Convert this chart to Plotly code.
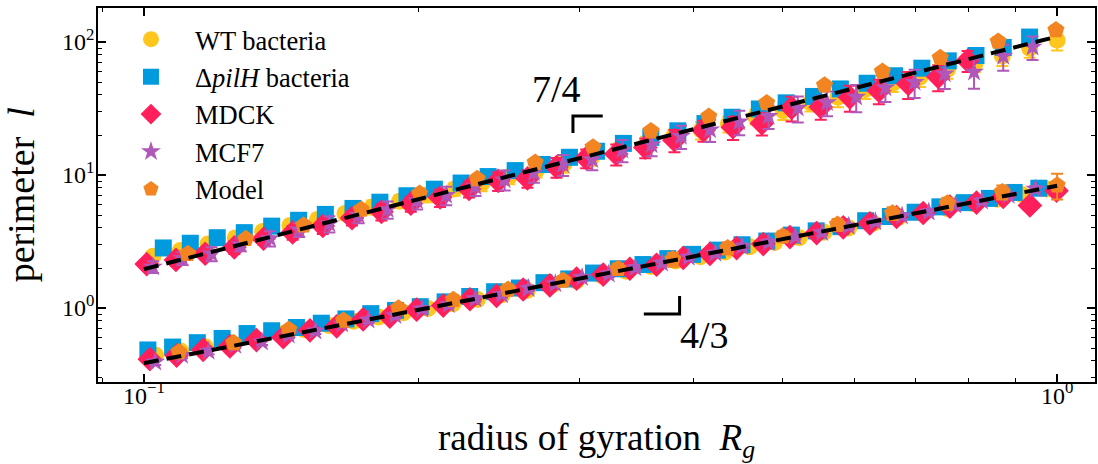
import numpy as np
import plotly.graph_objects as go

# ---------------- data ----------------
# upper family (slope 7/4)
wt_up_x = [0.1023, 0.1096, 0.1175, 0.1259, 0.1349, 0.1445, 0.1549, 0.1660, 0.1778, 0.1905,
           0.2042, 0.2188, 0.2344, 0.2512, 0.2692, 0.2884, 0.3090, 0.3311, 0.3548, 0.3802,
           0.4074, 0.4365, 0.4677, 0.5012, 0.5370, 0.5754, 0.6166, 0.6607, 0.7079, 0.7586,
           0.8128, 0.8710, 0.9333, 1.0]
wt_up_y = [2.45, 2.71, 3.03, 3.37, 3.76, 4.18, 4.63, 5.13, 5.74, 6.35,
           7.09, 7.85, 8.69, 9.70, 10.9, 12.1, 13.5, 15.4, 17.0, 19.5,
           21.8, 24.3, 27.6, 30.5, 34.9, 38.5, 43.9, 49.0, 54.7, 62.4,
           68.9, 78.6, 89.7, 103.0]
wt_up_err_pct = [8, 9, 8, 10, 9, 10, 11, 10, 12, 11, 12, 11, 13, 12, 12, 14, 13, 12, 14, 13,
                 15, 14, 13, 15, 14, 16, 15, 14, 16, 15, 14, 16, 15, 16]

pil_up_x = [0.1050, 0.1124, 0.1203, 0.1288, 0.1380, 0.1477, 0.1580, 0.1694, 0.1813, 0.1941,
            0.2080, 0.2225, 0.2382, 0.2550, 0.2730, 0.2924, 0.3130, 0.3350, 0.3590, 0.3843,
            0.4115, 0.4406, 0.4720, 0.5050, 0.5410, 0.5790, 0.6194, 0.6637, 0.7110, 0.7600,
            0.8150, 0.8730, 0.9330]
pil_up_y = [2.83, 3.07, 3.38, 3.69, 4.13, 4.57, 5.06, 5.61, 6.25, 6.99,
            7.83, 8.71, 9.74, 10.8, 12.0, 13.6, 15.1, 17.3, 19.2, 21.5,
            24.4, 27.2, 31.4, 34.9, 39.0, 44.4, 49.0, 55.8, 63.6, 72.2,
            79.2, 91.1, 109.0]
pil_up_err_pct = [5, 6, 5, 6, 6, 7, 6, 7, 7, 6, 8, 7, 8, 7, 8, 9, 8, 9, 8, 9,
                  10, 9, 10, 9, 10, 11, 10, 11, 10, 11, 12, 11, 12]

mdck_up_x = [0.1007, 0.1084, 0.1167, 0.1256, 0.1352, 0.1455, 0.1570, 0.1690, 0.1820, 0.1960,
             0.2110, 0.2270, 0.2443, 0.2630, 0.2830, 0.3050, 0.3290, 0.3540, 0.3810, 0.4100,
             0.4416, 0.4750, 0.5120, 0.5510, 0.5930, 0.6380, 0.6870, 0.7410, 0.7980]
mdck_up_y = [2.14, 2.30, 2.56, 2.86, 3.32, 3.70, 4.14, 4.75, 5.29, 6.09,
             6.78, 7.87, 9.05, 9.43, 11.5, 13.4, 14.4, 16.1, 18.3, 21.7,
             22.9, 24.5, 32.0, 32.5, 38.4, 43.1, 48.5, 54.8, 72.6]
mdck_up_err_pct = [8, 10, 9, 11, 10, 12, 13, 12, 14, 13, 15, 14, 16, 15, 17, 16, 18, 17, 19, 18,
                   20, 19, 21, 20, 22, 21, 23, 22, 18]

mcf_up_x = [0.1023, 0.1102, 0.1186, 0.1276, 0.1374, 0.1479, 0.1596, 0.1718, 0.1849, 0.1991,
            0.2143, 0.2307, 0.2483, 0.2673, 0.2877, 0.3097, 0.3342, 0.3597, 0.3873, 0.4169,
            0.4487, 0.4831, 0.5200, 0.5598, 0.6026, 0.6486, 0.6982, 0.7534, 0.8110, 0.8730,
            0.9400]
mcf_up_y = [2.04, 2.37, 2.56, 3.00, 3.34, 3.88, 4.30, 4.99, 5.51, 6.40,
            7.05, 8.19, 9.23, 10.4, 12.0, 13.1, 15.4, 16.9, 19.6, 21.9,
            25.2, 27.7, 31.9, 35.1, 38.6, 45.4, 49.9, 57.7, 59.5, 78.1,
            91.8]
mcf_up_err_pct = [10, 11, 12, 11, 13, 12, 14, 13, 15, 14, 16, 15, 17, 16, 18, 17, 19, 18, 20, 19,
                  21, 20, 22, 21, 23, 22, 24, 23, 25, 22, 20]

model_up_x = [0.1117, 0.1293, 0.1496, 0.1730, 0.2004, 0.2317, 0.2682, 0.3103, 0.3591, 0.4155,
              0.4808, 0.5563, 0.6437, 0.7448, 0.8619, 0.9970]
model_up_y = [2.56, 3.32, 4.20, 5.51, 7.26, 9.36, 12.4, 16.2, 21.4, 27.5,
              34.8, 47.3, 60.1, 76.2, 101.0, 123.0]
model_up_err_pct = [4, 4, 5, 4, 5, 5, 5, 6, 5, 6, 6, 6, 7, 6, 7, 8]

# lower family (slope 4/3)
wt_lo_x = [0.1030, 0.1097, 0.1167, 0.1242, 0.1323, 0.1408, 0.1498, 0.1595, 0.1697, 0.1807,
           0.1924, 0.2047, 0.2180, 0.2319, 0.2469, 0.2629, 0.2797, 0.2977, 0.3169, 0.3373,
           0.3590, 0.3822, 0.4068, 0.4330, 0.4608, 0.4905, 0.5219, 0.5556, 0.5914, 0.6294,
           0.6699, 0.7131, 0.7590, 0.8078, 0.8599, 0.9152, 0.9741]
wt_lo_y = [0.441, 0.475, 0.511, 0.551, 0.593, 0.638, 0.687, 0.739, 0.796, 0.856,
           0.921, 0.991, 1.078, 1.159, 1.260, 1.355, 1.487, 1.601, 1.757, 1.890,
           2.054, 2.255, 2.426, 2.636, 2.895, 3.114, 3.384, 3.716, 3.997, 4.344,
           4.769, 5.129, 5.575, 6.119, 6.583, 7.154, 7.855]

pil_lo_x = [0.1010, 0.1075, 0.1144, 0.1218, 0.1297, 0.1380, 0.1469, 0.1564, 0.1664, 0.1772,
            0.1886, 0.2007, 0.2137, 0.2274, 0.2421, 0.2577, 0.2742, 0.2919, 0.3107, 0.3307,
            0.3520, 0.3747, 0.3988, 0.4245, 0.4518, 0.4809, 0.5117, 0.5447, 0.5798, 0.6171,
            0.6568, 0.6991, 0.7441, 0.7920, 0.8430, 0.8973, 0.9550]
pil_lo_y = [0.484, 0.509, 0.549, 0.591, 0.643, 0.675, 0.714, 0.769, 0.828, 0.908,
            0.960, 1.024, 1.113, 1.221, 1.327, 1.414, 1.552, 1.655, 1.833, 1.974,
            2.124, 2.353, 2.533, 2.726, 2.992, 3.189, 3.534, 3.804, 4.093, 4.535,
            4.881, 5.253, 5.765, 6.203, 6.676, 7.398, 7.962]

mdck_lo_x = [0.1015, 0.1086, 0.1161, 0.1242, 0.1328, 0.1421, 0.1520, 0.1626, 0.1738, 0.1859,
             0.1989, 0.2127, 0.2275, 0.2433, 0.2602, 0.2783, 0.2977, 0.3184, 0.3405, 0.3642,
             0.3896, 0.4167, 0.4457, 0.4767, 0.5098, 0.5453, 0.5832, 0.6237, 0.6671, 0.7135,
             0.7631, 0.8161, 0.8730, 0.9337, 0.9986]
mdck_lo_y = [0.413, 0.439, 0.485, 0.515, 0.574, 0.603, 0.680, 0.729, 0.822, 0.863,
             0.973, 1.043, 1.165, 1.236, 1.379, 1.479, 1.667, 1.786, 1.974, 2.116,
             2.386, 2.558, 2.826, 3.028, 3.415, 3.661, 4.045, 4.337, 4.839, 5.186,
             5.789, 6.205, 6.856, 5.908, 7.622]

mcf_lo_x = [0.1029, 0.1101, 0.1177, 0.1259, 0.1347, 0.1441, 0.1541, 0.1649, 0.1762, 0.1885,
            0.2017, 0.2157, 0.2307, 0.2467, 0.2638, 0.2822, 0.3019, 0.3229, 0.3453, 0.3693,
            0.3951, 0.4225, 0.4519, 0.4834, 0.5169, 0.5529, 0.5914, 0.6324, 0.6764, 0.7235,
            0.7738, 0.8275, 0.8852, 0.9468]
mcf_lo_y = [0.393, 0.442, 0.474, 0.524, 0.556, 0.627, 0.672, 0.758, 0.812, 0.880,
            0.982, 1.063, 1.175, 1.259, 1.405, 1.522, 1.698, 1.801, 2.011, 2.177,
            2.406, 2.579, 2.908, 3.117, 3.444, 3.692, 4.121, 4.463, 4.929, 5.283,
            5.956, 6.386, 7.054, 7.870]

model_lo_x = [0.1092, 0.1254, 0.1441, 0.1654, 0.1900, 0.2182, 0.2505, 0.2877, 0.3305, 0.3795,
              0.4358, 0.5005, 0.5748, 0.6603, 0.7583, 0.8708, 1.0]
model_lo_y = [0.468, 0.547, 0.689, 0.806, 0.997, 1.155, 1.377, 1.609, 1.972, 2.326,
              2.825, 3.464, 4.246, 5.154, 6.141, 7.454, 8.383]
model_lo_err_pct = [6, 7, 6, 8, 7, 8, 9, 8, 9, 12, 10, 9, 10, 11, 10, 12, 22]

lo_err_pct = {"wt": 5, "pil": 4, "mdck": 5, "mcf": 5}

# fitted power laws (end points)
fit_x = [0.1, 1.0]
fit_up_y = [1.96, 110.0]
fit_lo_y = [0.385, 8.3]

# slope guides
guide_up_x = [0.318, 0.295, 0.295]
guide_up_y = [27.8, 27.8, 20.7]
guide_lo_x = [0.3527, 0.386, 0.386]
guide_lo_y = [0.901, 0.901, 1.23]

names = ["WT bacteria", "\u0394<i>pilH</i> bacteria", "MDCK", "MCF7", "Model"]
colors = ["#FFC61E", "#009ADE", "#FF1F5B", "#AF58BA", "#F28522"]
symbols = ["circle", "square", "diamond", "star", "pentagon"]
sizes = [17, 17, 19, 15, 18]

x_tickvals = [0.1, 1.0]
x_ticktext = ["10<sup>\u22121</sup>", "10<sup>0</sup>"]
x_minor = [0.09, 0.2, 0.3, 0.4, 0.5, 0.6, 0.7, 0.8, 0.9]
y_tickvals = [1, 10, 100]
y_ticktext = ["10<sup>0</sup>", "10<sup>1</sup>", "10<sup>2</sup>"]
y_minor = [0.3, 0.4, 0.5, 0.6, 0.7, 0.8, 0.9, 2, 3, 4, 5, 6, 7, 8, 9, 20, 30, 40, 50, 60, 70, 80, 90]

FONT = "'Liberation Serif', 'Times New Roman', 'DejaVu Serif', serif"

fig = go.Figure()

upper = [(wt_up_x, wt_up_y, wt_up_err_pct), (pil_up_x, pil_up_y, pil_up_err_pct),
         (mdck_up_x, mdck_up_y, mdck_up_err_pct), (mcf_up_x, mcf_up_y, mcf_up_err_pct),
         (model_up_x, model_up_y, model_up_err_pct)]
lower = [(wt_lo_x, wt_lo_y, [lo_err_pct["wt"]] * len(wt_lo_x)),
         (pil_lo_x, pil_lo_y, [lo_err_pct["pil"]] * len(pil_lo_x)),
         (mdck_lo_x, mdck_lo_y, [lo_err_pct["mdck"]] * len(mdck_lo_x)),
         (mcf_lo_x, mcf_lo_y, [lo_err_pct["mcf"]] * len(mcf_lo_x)),
         (model_lo_x, model_lo_y, model_lo_err_pct)]

for i in range(5):
    for grp, show in ((lower, False), (upper, True)):
        xs, ys, ep = grp[i]
        err = [y * p / 100.0 for y, p in zip(ys, ep)]
        fig.add_trace(go.Scatter(
            x=xs, y=ys, mode="markers", name=names[i], legendgroup=names[i],
            showlegend=show,
            marker=dict(symbol=symbols[i], size=sizes[i], color=colors[i], line=dict(width=0)),
            error_y=dict(type="data", array=err, color=colors[i], thickness=2, width=6),
        ))

for fy in (fit_up_y, fit_lo_y):
    fig.add_trace(go.Scatter(x=fit_x, y=fy, mode="lines", showlegend=False,
                             line=dict(color="black", width=4, dash="15px,8px")))

for gx, gy in ((guide_up_x, guide_up_y), (guide_lo_x, guide_lo_y)):
    fig.add_trace(go.Scatter(x=gx, y=gy, mode="lines", showlegend=False,
                             line=dict(color="black", width=3)))

fig.add_annotation(x=np.log10(0.283), y=np.log10(44.5), xref="x", yref="y", text="7/4",
                   showarrow=False, font=dict(family=FONT, size=38, color="black"))
fig.add_annotation(x=np.log10(0.411), y=np.log10(0.627), xref="x", yref="y", text="4/3",
                   showarrow=False, font=dict(family=FONT, size=38, color="black"))

fig.add_annotation(x=0.5, y=-0.225, xref="paper", yref="paper",
                   text="radius of gyration&nbsp;&nbsp;<i>R<sub>g</sub></i>", showarrow=False,
                   font=dict(family=FONT, size=37, color="black"))
fig.add_annotation(x=-0.10, y=0.5, xref="paper", yref="paper", textangle=-90,
                   text="perimeter&nbsp;&nbsp;<i>l</i>", showarrow=False,
                   font=dict(family=FONT, size=38, color="black"))

axis_common = dict(showline=True, linecolor="black", linewidth=1.5, mirror="ticks",
                   ticks="inside", ticklen=8, tickwidth=1.5, tickcolor="black",
                   showgrid=False, zeroline=False,
                   tickfont=dict(family=FONT, size=24, color="black"))

fig.update_xaxes(type="log", range=[-1.0503, 0.0415], tickmode="array",
                 tickvals=x_tickvals, ticktext=x_ticktext, ticklabelstandoff=-9,
                 minor=dict(tickvals=x_minor, ticks="inside", ticklen=4, tickwidth=1.2,
                            tickcolor="black", showgrid=False),
                 **axis_common)
fig.update_yaxes(type="log", range=[-0.556, 2.256], tickmode="array",
                 tickvals=y_tickvals, ticktext=y_ticktext, ticklabelstandoff=-3,
                 minor=dict(tickvals=y_minor, ticks="inside", ticklen=4, tickwidth=1.2,
                            tickcolor="black", showgrid=False),
                 **axis_common)

fig.update_layout(
    width=1098, height=464,
    margin=dict(l=98, r=1, t=8, b=82),
    paper_bgcolor="white", plot_bgcolor="white",
    font=dict(family=FONT, color="black"),
    legend=dict(x=0.009, y=0.98, xanchor="left", yanchor="top",
                bgcolor="rgba(0,0,0,0)", borderwidth=0,
                font=dict(family=FONT, size=26.5, color="black"),
                traceorder="grouped", tracegroupgap=0, itemwidth=78),
)

fig.write_html("out.html")
